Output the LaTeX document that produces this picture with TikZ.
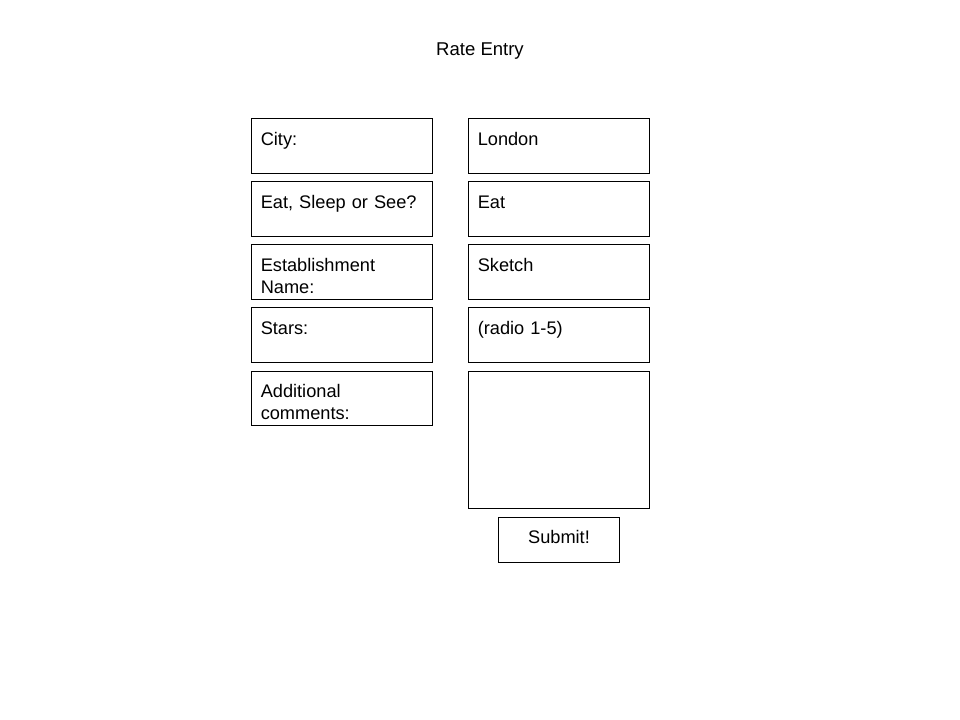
\documentclass[tikz,border=0pt]{standalone}
\usepackage{fontspec}
\setmainfont{Liberation Sans}
\begin{document}
\begin{tikzpicture}[x=0.75pt,y=-0.75pt,
  field/.style={draw=black,line width=0.75pt,anchor=north west,inner sep=0pt,minimum width=136pt,minimum height=41pt},
  txt/.style={anchor=base west,inner sep=0pt,text width=130pt,align=left,font=\fontsize{13.65}{16.5}\selectfont},
  ctxt/.style={anchor=base,inner sep=0pt,font=\fontsize{13.65}{16.5}\selectfont}]
\useasboundingbox[fill=white] (0,0) rectangle (960,720);
\node[ctxt,font=\fontsize{13.9}{16.5}\selectfont] (title) at (480,56) {Rate Entry};
% left column
\node[field] (l1) at (251,118.5) {};
\node[field] (l2) at (251,181.5) {};
\node[field] (l3) at (251,244.5) {};
\node[field] (l4) at (251,307.5) {};
\node[field] (l5) at (251,370.5) {};
\node[txt] (t1) at (260.5,145.5) {City:};
\node[txt] (t2) at (260.5,208.5) {Eat, Sleep or See?};
\node[txt] (t3) at (260.5,271.5) {Establishment\\Name:};
\node[txt] (t4) at (260.5,334.5) {Stars:};
\node[txt] (t5) at (260.5,397.5) {Additional\\comments:};
% right column
\node[field] (r1) at (468,118.5) {};
\node[field] (r2) at (468,181.5) {};
\node[field] (r3) at (468,244.5) {};
\node[field] (r4) at (468,307.5) {};
\node[field,minimum height=103pt] (r5) at (468,370.5) {};
\node[txt] (v1) at (477.5,145.5) {London};
\node[txt] (v2) at (477.5,208.5) {Eat};
\node[txt] (v3) at (477.5,271.5) {Sketch};
\node[txt] (v4) at (477.5,334.5) {(radio 1-5)};
% submit
\node[draw=black,line width=0.75pt,anchor=north west,inner sep=0pt,minimum width=91pt,minimum height=34.25pt] (sb) at (498,516.5) {};
\node[ctxt] (st) at (559,543) {Submit!};
\end{tikzpicture}
\end{document}
